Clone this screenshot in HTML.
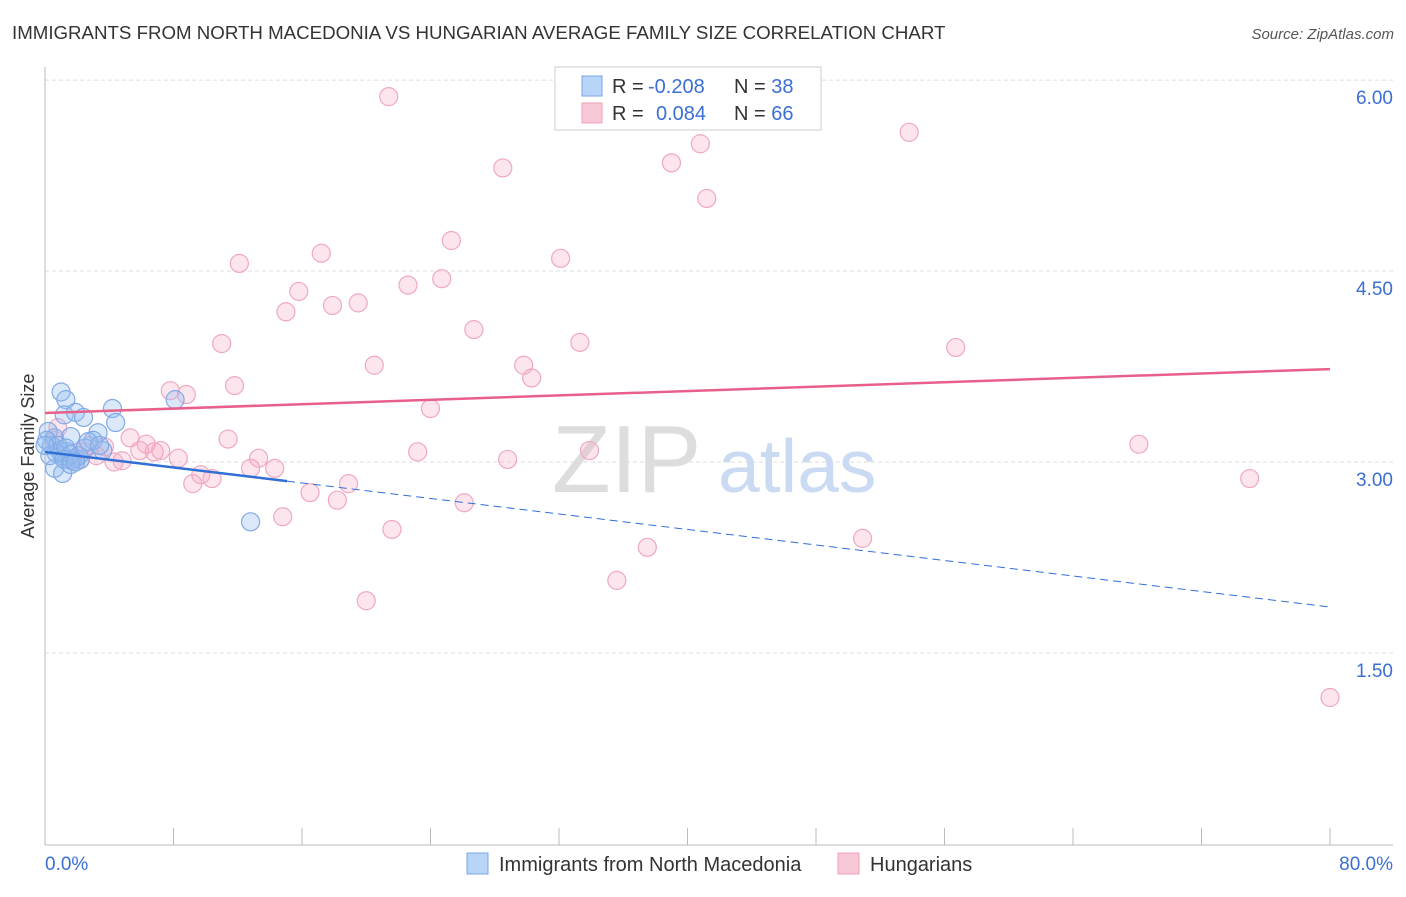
<!DOCTYPE html>
<html><head><meta charset="utf-8"><style>
body{margin:0;background:#fff;font-family:"Liberation Sans",sans-serif}
svg text{font-family:"Liberation Sans",sans-serif}
</style></head><body>
<svg width="1406" height="892" xmlns="http://www.w3.org/2000/svg" id="chart">
<text x="12" y="39" font-size="18.7" fill="#333">IMMIGRANTS FROM NORTH MACEDONIA VS HUNGARIAN AVERAGE FAMILY SIZE CORRELATION CHART</text>
<text x="1394" y="39" font-size="15" fill="#555" font-style="italic" text-anchor="end">Source: ZipAtlas.com</text>
<g id="grid"></g>
<g><text x="552" y="492" font-family="Liberation Serif,serif" font-size="96" fill="#ddd">ZIP</text><text x="718" y="492" font-size="75" fill="#c9daf2">atlas</text></g>
<line x1="45" y1="67" x2="45" y2="845" stroke="#bbb"/>
<line x1="45" y1="845" x2="1393" y2="845" stroke="#bbb"/>
<g id="xticks"></g>
<text x="45" y="870" font-size="19" fill="#3b6fd4">0.0%</text>
<text x="1393" y="870" font-size="19" fill="#3b6fd4" text-anchor="end">80.0%</text>
<text transform="translate(34,456) rotate(-90)" font-size="18" fill="#333" text-anchor="middle">Average Family Size</text>
<g id="pink"></g>
<g id="blue"></g>
<g id="lines"></g>
<g>
<rect x="555" y="67" width="266" height="63" fill="#fff" stroke="#ccc"/>
<rect x="582" y="76" width="20" height="20" fill="#b8d4f8" stroke="#7aa6e6"/>
<rect x="582" y="103" width="20" height="20" fill="#f9c8d6" stroke="#f0a0b8"/>
<text x="612" y="93" font-size="20" fill="#333">R = <tspan x="648" fill="#3b6fd4">-0.208</tspan><tspan x="734">N = </tspan><tspan fill="#3b6fd4">38</tspan></text>
<text x="612" y="120" font-size="20" fill="#333">R = <tspan x="656" fill="#3b6fd4">0.084</tspan><tspan x="734">N = </tspan><tspan fill="#3b6fd4">66</tspan></text>
</g>
<g>
<rect x="467" y="853" width="21" height="21" fill="#b8d4f8" stroke="#7aa6e6"/>
<text x="499" y="871" font-size="20" fill="#333">Immigrants from North Macedonia</text>
<rect x="838" y="853" width="21" height="21" fill="#f9c8d6" stroke="#f0a0b8"/>
<text x="870" y="871" font-size="20" fill="#333">Hungarians</text>
</g>
</svg>
<script>
const yTicks=[1.5,3.0,4.5,6.0];
const yTickLabels=["1.50","3.00","4.50","6.00"];
const xTicks=[0,8,16,24,32,40,48,56,64,72,80];
const pinkX=[21.4,28.5,39.0,40.8,53.8,41.2,25.3,17.2,12.1,32.1,15.8,22.6,24.7,15.0,17.9,19.5,26.7,11.0,33.3,56.7,20.5,29.8,30.3,11.8,7.8,8.8,24.0,68.1,75.0,33.9,23.2,28.8,11.4,5.3,6.3,7.2,5.9,6.8,8.3,13.3,12.8,14.3,9.7,10.4,9.2,4.8,4.3,3.7,2.4,0.8,16.5,18.2,18.9,14.8,26.1,21.6,37.5,50.9,35.6,20.0,80.0,2.2,3.2,1.6,2.8,0.6];
const pinkY=[5.87,5.31,5.35,5.50,5.59,5.07,4.74,4.64,4.56,4.60,4.34,4.39,4.44,4.18,4.23,4.25,4.04,3.93,3.94,3.90,3.76,3.76,3.66,3.60,3.56,3.53,3.42,3.14,2.87,3.09,3.08,3.02,3.18,3.19,3.14,3.09,3.09,3.08,3.03,3.03,2.95,2.95,2.90,2.87,2.83,3.01,3.00,3.12,3.08,3.27,2.76,2.70,2.83,2.57,2.68,2.47,2.33,2.40,2.07,1.91,1.15,3.02,3.05,3.02,3.13,3.17];
const blueX=[1.0,1.3,4.2,8.1,1.2,1.9,2.4,4.4,3.3,0.2,0.6,1.6,3.0,3.6,0.4,0.9,1.4,1.9,2.2,1.1,1.7,0.6,1.1,0.7,0.1,0.3,0.8,1.3,1.6,2.1,2.5,2.7,0.0,12.8,3.4,1.2,1.6,1.9];
const blueY=[3.55,3.49,3.42,3.49,3.37,3.39,3.35,3.31,3.23,3.24,3.19,3.20,3.17,3.09,3.13,3.09,3.08,3.03,3.02,3.05,3.01,2.95,2.91,3.07,3.17,3.05,3.13,3.11,3.06,3.05,3.11,3.16,3.13,2.53,3.13,3.02,2.98,3.00];
const pinkTrend=[3.385,3.73];
const blueTrend=[3.079,1.861];
const blueSolidEnd=15.07;
const NS="http://www.w3.org/2000/svg";
const xs=p=>45+p*(1285/80);
const ys=v=>462-(v-3)*127.3;
function mk(tag,parent,attrs){const e=document.createElementNS(NS,tag);for(const k in attrs)e.setAttribute(k,attrs[k]);parent.appendChild(e);return e;}
const grid=document.getElementById('grid');
yTicks.forEach((t,i)=>{
 const l=mk('line',grid,{x1:45,x2:1393,y1:ys(t),y2:ys(t),stroke:'#ddd','stroke-dasharray':'4,3'});
 
 
 const tx=mk('text',grid,{x:1393,y:ys(t)+24,'font-size':19,fill:'#3b6fd4','text-anchor':'end'});
 tx.textContent=yTickLabels[i];
 
 
});
const xt=document.getElementById('xticks');
xTicks.forEach(t=>{
 const l=mk('line',xt,{x1:xs(t),x2:xs(t),y1:828,y2:845,stroke:'#bbb'});
 
 
});
const pg=document.getElementById('pink');
pinkX.forEach((x,i)=>{
 const c=mk('circle',pg,{cx:xs(x),cy:ys(pinkY[i]),r:9,fill:'rgba(245,170,195,0.3)',stroke:'#f0a8bf','stroke-width':1.2});
 
 
});
const bg=document.getElementById('blue');
blueX.forEach((x,i)=>{
 const c=mk('circle',bg,{cx:xs(x),cy:ys(blueY[i]),r:9,fill:'rgba(150,190,240,0.35)',stroke:'#80aae6','stroke-width':1.2});
 
 
});
const lg=document.getElementById('lines');
const pl=mk('line',lg,{x1:xs(0),y1:ys(pinkTrend[0]),x2:xs(80),y2:ys(pinkTrend[1]),stroke:'#e8608a','stroke-width':2.5});


const bmid=blueTrend[0]+(blueTrend[1]-blueTrend[0])*blueSolidEnd/80;
const bl=mk('line',lg,{x1:xs(0),y1:ys(blueTrend[0]),x2:xs(blueSolidEnd),y2:ys(bmid),stroke:'#2f6fd6','stroke-width':2.5});


const bd=mk('line',lg,{x1:xs(blueSolidEnd),y1:ys(bmid),x2:xs(80),y2:ys(blueTrend[1]),stroke:'#2f6fd6','stroke-width':1,'stroke-dasharray':'8,5'});


</script>
</body></html>
